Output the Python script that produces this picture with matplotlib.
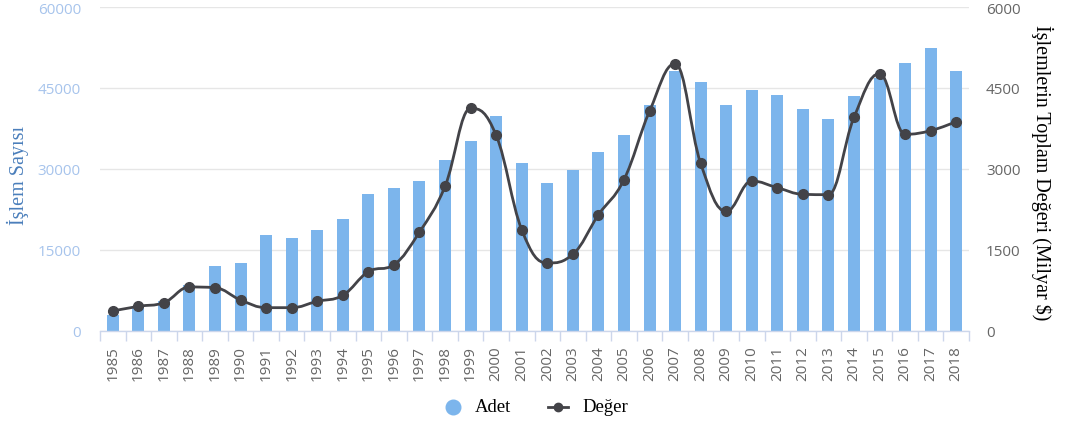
import numpy as np
import matplotlib
matplotlib.use("Agg")
import matplotlib.pyplot as plt
from matplotlib.path import Path
from matplotlib.patches import PathPatch
from matplotlib.lines import Line2D

# ---- data ----
years = [str(y) for y in range(1985, 2019)]
adet = [3000, 4500, 5500, 8500, 12100, 12600, 17700, 17200, 18650, 20700,
        25300, 26400, 27800, 31700, 35250, 39750, 31050, 27350, 29900, 33150,
        36250, 41800, 48200, 46050, 41850, 44700, 43700, 41100, 39250, 43500,
        46800, 49600, 52350, 48200]
deger = [370, 457, 524, 815, 802, 574, 432, 432, 550, 661,
         1098, 1228, 1833, 2680, 4124, 3624, 1876, 1259, 1420, 2150,
         2802, 4069, 4950, 3105, 2216, 2778, 2654, 2531, 2525, 3957,
         4765, 3642, 3710, 3877]
left_ticks = [0, 15000, 30000, 45000, 60000]
right_ticks = [0, 1500, 3000, 4500, 6000]

BAR = "#7cb5ec"
LINE = "#434348"
SERIF = "Liberation Serif"
SANS = "Open Sans"
W, H = 1069, 427
PX = 72 / 100  # points per pixel at 100 dpi


def spline_path(xs, ys, smoothing=1.5):
    """Cubic Bezier path through the points, with overshoot limiting."""
    n = len(xs)
    denom = smoothing + 1
    lc = [None] * n
    rc = [None] * n
    for i in range(1, n - 1):
        px, py = xs[i], ys[i]
        lx, ly = xs[i - 1], ys[i - 1]
        nx, ny = xs[i + 1], ys[i + 1]
        lcx = (smoothing * px + lx) / denom
        lcy = (smoothing * py + ly) / denom
        rcx = (smoothing * px + nx) / denom
        rcy = (smoothing * py + ny) / denom
        if rcx != lcx:
            corr = (rcy - lcy) * (rcx - px) / (rcx - lcx) + py - rcy
            lcy += corr
            rcy += corr
        if lcy > ly and lcy > py:
            lcy = max(ly, py)
            rcy = 2 * py - lcy
        elif lcy < ly and lcy < py:
            lcy = min(ly, py)
            rcy = 2 * py - lcy
        if rcy > ny and rcy > py:
            rcy = max(ny, py)
            lcy = 2 * py - rcy
        elif rcy < ny and rcy < py:
            rcy = min(ny, py)
            lcy = 2 * py - rcy
        lc[i] = (lcx, lcy)
        rc[i] = (rcx, rcy)
    verts = [(xs[0], ys[0])]
    codes = [Path.MOVETO]
    for i in range(1, n):
        c1 = rc[i - 1] if rc[i - 1] is not None else (xs[i - 1], ys[i - 1])
        c2 = lc[i] if lc[i] is not None else (xs[i], ys[i])
        verts += [c1, c2, (xs[i], ys[i])]
        codes += [Path.CURVE4] * 3
    return Path(verts, codes)


fig = plt.figure(figsize=(W / 100, H / 100), dpi=100)
ax1 = fig.add_axes([100 / W, 1 - 332 / H, 869 / W, 324 / H])
ax2 = ax1.twinx()

x = np.arange(len(years))
ax1.bar(x, adet, width=0.47, color=BAR, zorder=2)
ax1.set_xlim(-0.5, len(years) - 0.5)
ax1.set_ylim(0, 60000)
ax1.set_yticks(left_ticks)
ax1.set_axisbelow(True)
ax1.grid(axis="y", color="#e6e6e6", linewidth=1)
ax1.tick_params(axis="y", length=0, pad=19 * PX, labelcolor="#a7c4ec",
                labelsize=11)
for lab in ax1.get_yticklabels():
    lab.set_fontfamily(SANS)

ax1.set_xticks(x)
ax1.set_xticklabels(years, rotation=90, fontsize=11, fontfamily=SANS,
                    color="#666666")
ax1.tick_params(axis="x", which="major", length=0, pad=14 * PX)
ax1.set_xticks(np.arange(-0.5, len(years), 1.0), minor=True)
ax1.tick_params(axis="x", which="minor", length=10 * PX, width=1,
                color="#ccd6eb")

for side in ("top", "left", "right"):
    ax1.spines[side].set_visible(False)
    ax2.spines[side].set_visible(False)
ax2.spines["bottom"].set_visible(False)
ax1.spines["bottom"].set_color("#ccd6eb")
ax1.spines["bottom"].set_linewidth(1)

ax2.set_ylim(0, 6000)
ax2.set_yticks(right_ticks)
ax2.tick_params(axis="y", length=0, pad=17 * PX, labelcolor="#666666",
                labelsize=11)
for lab in ax2.get_yticklabels():
    lab.set_fontfamily(SANS)

path = spline_path(list(x.astype(float)), deger)
ax2.add_patch(PathPatch(path, facecolor="none", edgecolor=LINE,
                        linewidth=2, zorder=3))
ax2.plot(x, deger, linestyle="none", marker="o", markersize=7,
         color=LINE, zorder=4)

fig.text(18 / W, 1 - 175 / H, "İşlem Sayısı", rotation=90,
         ha="center", va="center", fontsize=14.5, fontfamily=SERIF,
         color="#4a7ebb")
fig.text(1042 / W, 1 - 173 / H, "İşlemlerin Toplam Değeri (Milyar $)",
         rotation=270, ha="center", va="center", fontsize=14.5,
         fontfamily=SERIF, color="black")

# legend items placed in figure pixel coordinates
ly = 1 - 408 / H
fig.add_artist(Line2D([453 / W], [ly], linestyle="none", marker="o",
                      markersize=10.5, color=BAR, transform=fig.transFigure))
fig.text(475 / W, ly, "Adet", ha="left", va="center", fontsize=13.5,
         fontfamily=SERIF, color="black")
fig.add_artist(Line2D([548 / W, 568 / W], [ly, ly], color=LINE,
                      linewidth=2, transform=fig.transFigure))
fig.add_artist(Line2D([558 / W], [ly], linestyle="none", marker="o",
                      markersize=6, color=LINE, transform=fig.transFigure))
fig.text(582 / W, ly, "Değer", ha="left", va="center", fontsize=13.5,
         fontfamily=SERIF, color="black")

fig.savefig("out.png", dpi=100)
